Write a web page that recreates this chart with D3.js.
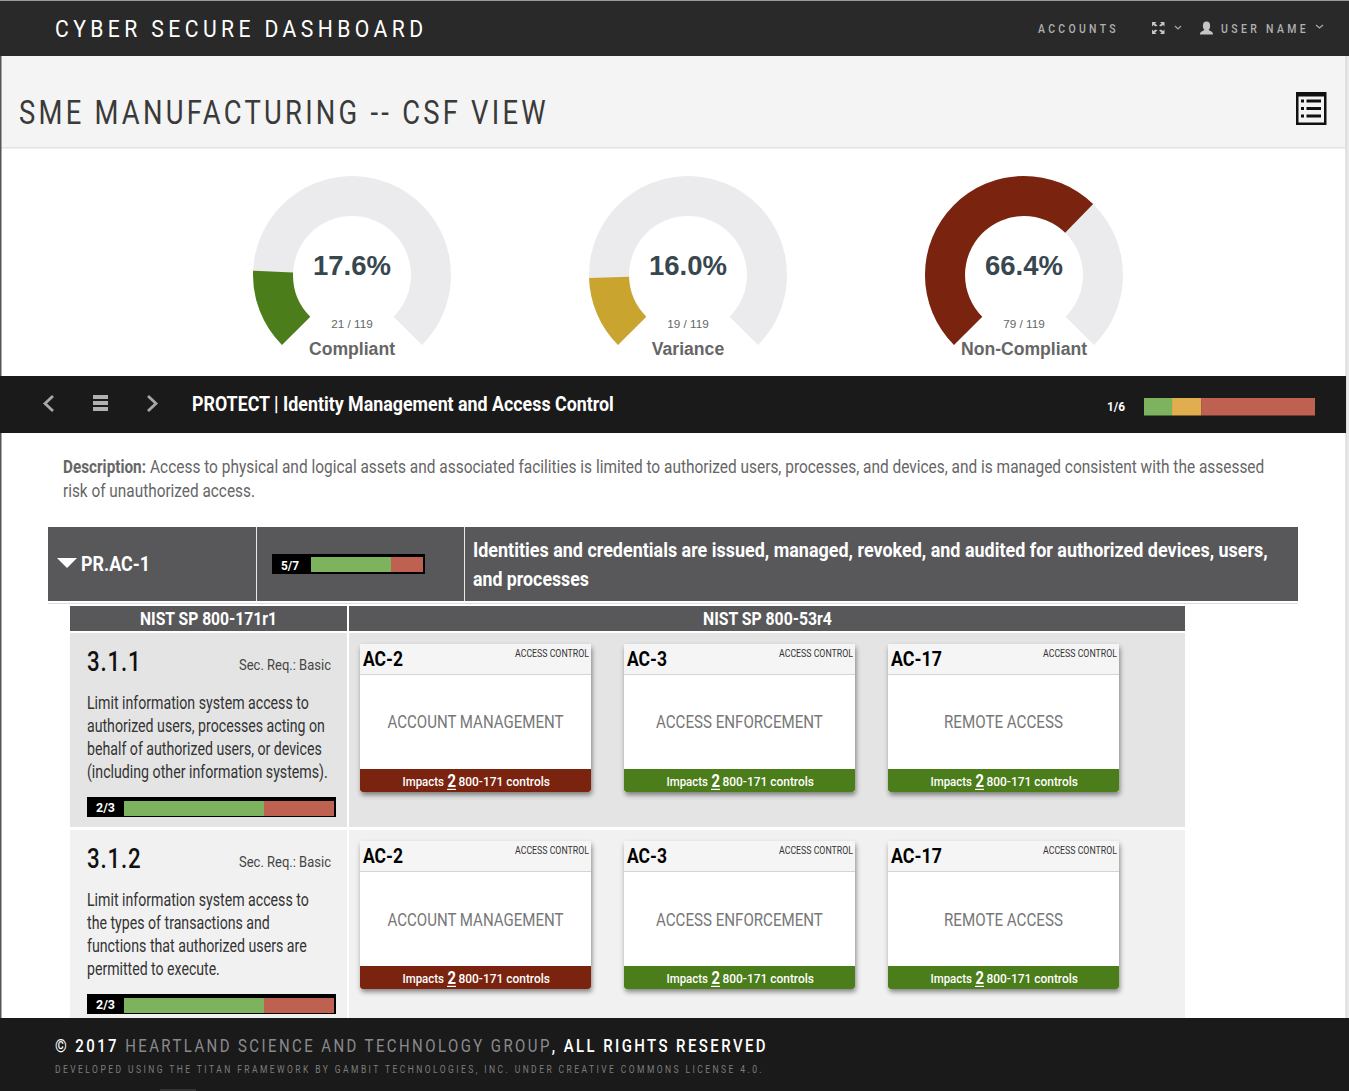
<!DOCTYPE html>
<html><head><meta charset="utf-8">
<script src="https://cdn.jsdelivr.net/npm/d3@7/dist/d3.min.js"></script>
<style>html,body{margin:0;padding:0;background:#fff;overflow:hidden}svg{display:block}text{font-family:Roboto,sans-serif;white-space:pre;font-variant-ligatures:none}</style>
</head><body><div id="c"></div>
<script>
const gaugeLabels=["Compliant","Variance","Non-Compliant"];
const gaugeCounts=[21,19,79];
const gaugeTotal=119;
const gaugePercents=[17.6,16.0,66.4];
const gaugeColors=["#4b7d1b","#c9a52f","#7a2410"];
const sectionBarValues=[16.4,17,66.6];
const sectionBarColors=["#7db35f","#e0ae4e","#bf6151"];
const subcatValues=[5,2];
const reqValues=[2,1];
const ctrlIds=["AC-2","AC-3","AC-17"];
const ctrlNames=["ACCOUNT MANAGEMENT","ACCESS ENFORCEMENT","REMOTE ACCESS"];
const ctrlColors=["#7a2410","#4b7d1b","#4b7d1b"];
const reqIds=["3.1.1","3.1.2"];
const reqLines=[["Limit information system access to","authorized users, processes acting on","behalf of authorized users, or devices","(including other information systems)."],
["Limit information system access to","the types of transactions and","functions that authorized users are","permitted to execute."]];
const reqLineEnds=[[309,325,322,328],[309,270,307,220]];

const W=1349,H=1091;
const svg=d3.select("#c").append("svg").attr("width",W).attr("height",H).attr("viewBox",[0,0,W,H]);
const defs=svg.append("defs");
const f=defs.append("filter").attr("id","sh").attr("x","-10%").attr("y","-10%").attr("width","120%").attr("height","125%");
f.append("feDropShadow").attr("dx",1).attr("dy",3).attr("stdDeviation",2.6).attr("flood-color","#000").attr("flood-opacity",.45);

function rect(x0,y0,x1,y1,fill,p=svg){return p.append("rect").attr("x",x0).attr("y",y0).attr("width",x1-x0).attr("height",y1-y0).attr("fill",fill);}
// text squeezed horizontally to span x0..x1 (the original face is condensed)
function fit(t,x0,x1,y,ls=0){
  t.attr("x",0).attr("y",0);
  if(ls)t.style("letter-spacing",ls+"px");
  const L=t.node().getComputedTextLength()-0.6*ls;
  t.attr("transform",`translate(${x0},${y}) scale(${(x1-x0)/L},1)`);
  return t;
}
function txt(s,x0,x1,y,size,fill,weight=400,ls=0){
  const t=svg.append("text").attr("font-size",size).attr("fill",fill).attr("font-weight",weight).text(s);
  return fit(t,x0,x1,y,ls);
}
function ctxt(s,cx,w,y,size,fill,weight=400){return txt(s,cx-w/2,cx+w/2,y,size,fill,weight);}
function chevron(x,y,w,h,col,sw=1.2){svg.append("path").attr("d",d3.line()([[x,y],[x+w/2,y+h],[x+w,y]])).attr("fill","none").attr("stroke",col).attr("stroke-width",sw);}

// page frame
rect(0,0,W,H,"#fff");
rect(0,0,W,2,"#9a9a9a");
rect(0,1,W,56,"#292929");
rect(1,56,1346,147,"#f4f4f4");
rect(1,147,1345,148.5,"#e2e2e2");
rect(0,56,1.5,H,"#555");
rect(1346,56,1349,H,"#e9e9e9");
rect(1345.5,56,1346.5,H,"#d0d0d0");

// top nav
txt("CYBER SECURE DASHBOARD",55,425,37,24,"#fff",400,5);
txt("ACCOUNTS",1038,1117,33,12.5,"#b0b0b0",500,4);
txt("USER NAME",1221,1307,33,12.5,"#b0b0b0",500,4);
chevron(1175,26,6,3,"#aaa");chevron(1316,25,7,3,"#aaa");
const ic=svg.append("g").attr("fill","#c4c4c4");
[[1152,22,1,1],[1164.5,22,-1,1],[1152,34,1,-1],[1164.5,34,-1,-1]].forEach(([x,y,a,b])=>ic.append("path").attr("d",d3.line()([[x,y],[x+4.5*a,y],[x+3*a,y+1.5*b],[x+5.5*a,y+3.5*b],[x+3.5*a,y+4.5*b],[x+1.5*a,y+3*b],[x,y+4.5*b]])));
svg.append("ellipse").attr("cx",1206.5).attr("cy",26).attr("rx",3.6).attr("ry",4.4).attr("fill","#c4c4c4");
svg.append("path").attr("fill","#c4c4c4").attr("d","M1200 34.5 C1200 31 1203 31.5 1204.5 29.5 L1208.5 29.5 C1210 31.5 1213 31 1213 34.5Z");

// page title
txt("SME MANUFACTURING -- CSF VIEW",19,547,124,34,"#3a3a3a",400,4);
// list icon
rect(1296,92,1326.5,125,"#111");
rect(1298.5,96.5,1324,122.5,"#f4f4f4");
[0,1,2].forEach(i=>{rect(1301,99.5+i*7.5,1304,102.5+i*7.5,"#111");rect(1306.5,99.5+i*7.5,1321,102.5+i*7.5,"#111");});

// gauges
const angle=d3.scaleLinear().domain([0,100]).range([-0.75*Math.PI,0.75*Math.PI]);
const gaugeX=d3.scalePoint().domain(gaugeLabels).range([352,1024]);
const arc=d3.arc().innerRadius(59).outerRadius(99);
const cy=275;
gaugeLabels.forEach((l,i)=>{
  const g=svg.append("g").attr("transform",`translate(${gaugeX(l)},${cy})`);
  g.append("path").attr("fill","#ebebee").attr("d",arc({startAngle:angle(0),endAngle:angle(100)}));
  g.append("path").attr("fill",gaugeColors[i]).attr("d",arc({startAngle:angle(0),endAngle:angle(gaugePercents[i])}));
  const x=gaugeX(l);
  svg.append("text").attr("x",x).attr("y",275).attr("text-anchor","middle").attr("font-size",27.5).attr("font-weight",700).attr("fill","#37474f").style("font-family","'Liberation Sans'").text(gaugePercents[i].toFixed(1)+"%");
  svg.append("text").attr("x",x).attr("y",327.5).attr("text-anchor","middle").attr("font-size",11.7).attr("fill","#666").style("font-family","'Liberation Sans'").text(gaugeCounts[i]+" / "+gaugeTotal);
  svg.append("text").attr("x",x).attr("y",355).attr("text-anchor","middle").attr("font-size",17.6).attr("font-weight",700).attr("fill","#666").style("font-family","'Liberation Sans'").text(l);
});

// section bar
rect(0,376,1346,433,"#1a1a1a");
svg.append("path").attr("fill","none").attr("stroke","#a8a8a8").attr("stroke-width",2.8).attr("d",d3.line()([[53,396],[45,403.5],[53,411]]));
svg.append("path").attr("fill","none").attr("stroke","#a8a8a8").attr("stroke-width",2.8).attr("d",d3.line()([[148,396],[156,403.5],[148,411]]));
[0,1,2].forEach(i=>rect(93,395+i*6,108,399+i*6,"#b0b0b0"));
txt("PROTECT | Identity Management and Access Control",192,614,411,20.5,"#fff",700);
txt("1/6",1107,1125,411,12.5,"#fff",700);

function stack(vals,cols,x0,x1,y0,y1){
  let sum=0;const cum=vals.map(v=>{const s=sum;sum+=v;return s;});
  const sx=d3.scaleLinear().domain([0,sum]).range([x0,x1]);
  svg.append("g").selectAll("rect").data(vals).join("rect")
    .attr("x",(d,i)=>sx(cum[i])).attr("width",d=>sx(d)-sx(0)).attr("y",y0).attr("height",y1-y0).attr("fill",(d,i)=>cols[i]);
}
stack(sectionBarValues,sectionBarColors,1144,1315,398,415.5);

// description
txt("Description:",63,146,473,18.5,"#666",700);
txt("Access to physical and logical assets and associated facilities is limited to authorized users, processes, and devices, and is managed consistent with the assessed",150,1265,473,18.5,"#666");
txt("risk of unauthorized access.",63,255,497,18.5,"#666");

// sub-category row
rect(48,527,1298,601,"#58585a");
rect(256,527,257,601,"#e8e8e8");rect(464,527,465,601,"#e8e8e8");
rect(48,603,1298,604,"#dcdcdc");
svg.append("path").attr("fill","#fff").attr("d",d3.line()([[57,558],[77,558],[67,568]]));
txt("PR.AC-1",81,150,571,20.5,"#fff",700);
rect(272,554,425,574,"#000");
txt("5/7",281,299,570,12.5,"#fff",700);
stack(subcatValues,[sectionBarColors[0],sectionBarColors[2]],311,423,557,572);
txt("Identities and credentials are issued, managed, revoked, and audited for authorized devices, users,",473,1268,557,20.5,"#fff",700);
txt("and processes",473,589,586,20.5,"#fff",700);

// table head
rect(70,606,347,631,"#58585a");rect(349,606,1185,631,"#58585a");
ctxt("NIST SP 800-171r1",208.5,137,624.5,17.5,"#fff",700);
ctxt("NIST SP 800-53r4",767.5,129,624.5,17.5,"#fff",700);

// rows
const rowTop=[633,830],rowBot=[827,1018],rowFill=["#e4e4e4","#f1f1f1"],dy=[0,197];
reqIds.forEach((id,r)=>{
  rect(70,rowTop[r],347,rowBot[r],rowFill[r]);rect(349,rowTop[r],1185,rowBot[r],rowFill[r]);
  const o=dy[r];
  txt(id,87,141,671+o,27,"#111",500,1);
  txt("Sec. Req.: Basic",239,331,670+o,15.5,"#444");
  reqLines[r].forEach((s,i)=>txt(s,87,reqLineEnds[r][i],709+o+i*23,17.5,"#333"));
  rect(87,797+o,336,817+o,"#000");
  txt("2/3",96,115,812+o,13,"#fff",700);
  stack(reqValues,[sectionBarColors[0],sectionBarColors[2]],124,334,801+o,816+o);
  ctrlIds.forEach((c,k)=>{
    const x=360+264*k;
    const card=svg.append("g");
    rect(x,644+o,x+231,792+o,"#fff",card).attr("rx",3).attr("filter","url(#sh)");
    rect(x,644+o,x+231,674+o,"#f5f5f5",card);
    rect(x,674+o,x+231,675+o,"#d4d4d4",card);
    rect(x,769+o,x+231,792+o,ctrlColors[k],card).attr("rx",3);
    rect(x,769+o,x+231,780+o,ctrlColors[k],card);
    txt(c,x+3,x+(c.length>4?54:43),666+o,20.5,"#000",700);
    txt("ACCESS CONTROL",x+155,x+229,657+o,11.5,"#333");
    const w=[176,167,119][k];
    ctxt(ctrlNames[k],x+115.5,w,728+o+(r?1:0),18.5,"#777");
    txt("Impacts",x+42.5,x+84,786+o,13.5,"#fff",500);
    txt("2",x+87.5,x+96,787+o,18,"#fff",700);
    rect(x+87,788.8+o,x+96,790+o,"#fff");
    txt("800-171 controls",x+98.5,x+190,786+o,13.5,"#fff",500);
  });
});

// footer
rect(0,1018,W,H,"#1a1a1a");
rect(160,1089,196,H,"#333");
const ft=svg.append("text").attr("font-size",18.5).attr("fill","#fff").attr("font-weight",500);
ft.append("tspan").text("© 2017 ");
ft.append("tspan").attr("fill","#8a8a8e").attr("font-weight",400).text("HEARTLAND SCIENCE AND TECHNOLOGY GROUP");
ft.append("tspan").text(", ALL RIGHTS RESERVED");
fit(ft,55,767,1052,3);
txt("DEVELOPED USING THE TITAN FRAMEWORK BY GAMBIT TECHNOLOGIES, INC. UNDER CREATIVE COMMONS LICENSE 4.0.",55,763,1073,10.5,"#7c7c7c",400,3);
</script></body></html>
